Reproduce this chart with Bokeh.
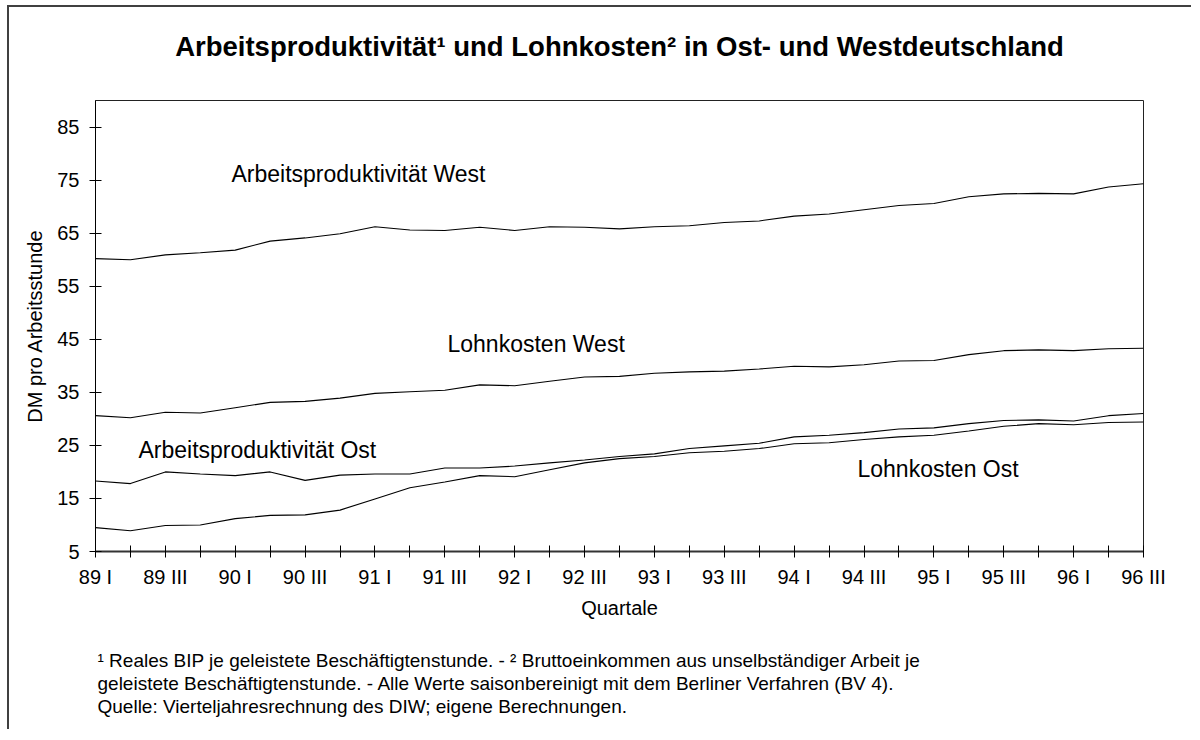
from bokeh.plotting import figure
from bokeh.models import Range1d, FixedTicker, Label, Title
from bokeh.embed import file_html
from bokeh.resources import INLINE

# ---------------- data ----------------
quarters = ["89 I", "89 II", "89 III", "89 IV",
            "90 I", "90 II", "90 III", "90 IV",
            "91 I", "91 II", "91 III", "91 IV",
            "92 I", "92 II", "92 III", "92 IV",
            "93 I", "93 II", "93 III", "93 IV",
            "94 I", "94 II", "94 III", "94 IV",
            "95 I", "95 II", "95 III", "95 IV",
            "96 I", "96 II", "96 III"]

prod_west = [60.2, 60.0, 60.9, 61.3, 61.8, 63.5, 64.1, 64.9, 66.2, 65.6, 65.5,
             66.1, 65.5, 66.2, 66.1, 65.8, 66.2, 66.4, 67.0, 67.3, 68.2, 68.6,
             69.4, 70.2, 70.6, 71.85, 72.4, 72.5, 72.4, 73.7, 74.3]
lohn_west = [30.6, 30.2, 31.25, 31.1, 32.1, 33.1, 33.3, 33.9, 34.8, 35.1, 35.4,
             36.4, 36.25, 37.1, 37.9, 38.0, 38.6, 38.85, 39.0, 39.4, 39.9, 39.8,
             40.2, 40.9, 41.0, 42.1, 42.85, 43.0, 42.85, 43.2, 43.3]
prod_ost = [18.3, 17.8, 20.0, 19.6, 19.3, 20.0, 18.4, 19.4, 19.6, 19.6, 20.75,
            20.75, 21.1, 21.7, 22.25, 22.9, 23.4, 24.4, 24.9, 25.4, 26.6, 26.9,
            27.4, 28.1, 28.3, 29.1, 29.7, 29.8, 29.6, 30.6, 31.0]
lohn_ost = [9.5, 8.9, 9.9, 10.0, 11.2, 11.8, 11.9, 12.8, 14.9, 17.0, 18.1,
            19.3, 19.1, 20.4, 21.7, 22.5, 22.9, 23.6, 23.9, 24.4, 25.3, 25.5,
            26.1, 26.6, 26.9, 27.7, 28.6, 29.1, 28.9, 29.3, 29.4]

y_ticks = [5, 15, 25, 35, 45, 55, 65, 75, 85]

title_text = "Arbeitsproduktivität¹ und Lohnkosten² in Ost- und Westdeutschland"
y_label = "DM pro Arbeitsstunde"
x_label = "Quartale"
footnotes = [
    "¹ Reales BIP je geleistete Beschäftigtenstunde. - ² Bruttoeinkommen aus unselbständiger Arbeit je",
    "geleistete Beschäftigtenstunde. - Alle Werte saisonbereinigt mit dem Berliner Verfahren (BV 4).",
    "Quelle: Vierteljahresrechnung des DIW; eigene Berechnungen.",
]

# ---------------- layout constants ----------------
FONT = "Liberation Sans"
AXIS_FS = "20px"
Y0, Y1 = 5, 90
N = len(quarters)
X = list(range(N))

# page pixel geometry of the plotting frame (for placing the series labels)
FL, FR, FT, FB = 95, 1143, 100, 551


def dx(px):
    return (px - FL) / (FR - FL) * (N - 1)


def dy(py):
    return Y1 - (py - FT) / (FB - FT) * (Y1 - Y0)


p = figure(width=1184, height=724, output_backend="svg", toolbar_location=None,
           x_range=Range1d(0, N - 1), y_range=Range1d(Y0, Y1),
           min_border_left=86, min_border_top=93, min_border_right=50,
           min_border_bottom=180)
p.styles = {"margin-left": "7px", "margin-top": "5px",
            "border-left": "2px solid #404040", "border-top": "2px solid #404040"}

p.xgrid.visible = False
p.ygrid.visible = False
p.outline_line_color = "#222222"
p.outline_line_width = 1
p.background_fill_color = "white"
p.border_fill_color = "white"

for series in (prod_west, lohn_west, prod_ost, lohn_ost):
    p.line(X, series, line_color="black", line_width=1.1)

# x axis
xa = p.xaxis[0]
xa.ticker = FixedTicker(ticks=X)
xa.major_label_overrides = {i: (quarters[i] if i % 2 == 0 else "") for i in X}
xa.major_tick_in = 6
xa.major_tick_out = 6
xa.minor_tick_line_color = None
xa.axis_line_width = 2
xa.axis_line_color = "#333333"
xa.major_tick_line_color = "black"
xa.major_label_text_font = FONT
xa.major_label_text_font_size = AXIS_FS
xa.major_label_text_color = "black"
xa.major_label_standoff = 8
xa.axis_label = x_label
xa.axis_label_text_font = FONT
xa.axis_label_text_font_size = AXIS_FS
xa.axis_label_text_font_style = "normal"
xa.axis_label_text_color = "black"
xa.axis_label_standoff = 6

# y axis
ya = p.yaxis[0]
ya.ticker = FixedTicker(ticks=y_ticks)
ya.major_tick_in = 6
ya.major_tick_out = 6
ya.minor_tick_line_color = None
ya.axis_line_color = "black"
ya.major_tick_line_color = "black"
ya.major_label_text_font = FONT
ya.major_label_text_font_size = AXIS_FS
ya.major_label_text_color = "black"
ya.major_label_standoff = 10
ya.axis_label = y_label
ya.axis_label_text_font = FONT
ya.axis_label_text_font_size = AXIS_FS
ya.axis_label_text_font_style = "normal"
ya.axis_label_text_color = "black"
ya.axis_label_standoff = 8

# title (above the frame): spacer next to the frame, then the title
p.add_layout(Title(text=" ", text_font=FONT, text_font_size="2px",
                   standoff=33), "above")
p.add_layout(Title(text=title_text, text_font=FONT, text_font_size="27.5px",
                   text_font_style="bold", text_color="black", align="center",
                   vertical_align="top", standoff=0), "above")

# footnotes (below the x axis): a spacer, then three lines
p.add_layout(Title(text=" ", text_font=FONT, text_font_size="2px",
                   standoff=24), "below")
for txt in footnotes:
    p.add_layout(Title(text=txt, text_font=FONT, text_font_size="19px",
                       text_font_style="normal", text_color="black",
                       align="left", vertical_align="top", offset=2,
                       standoff=0), "below")

# series labels inside the plot
series_labels = [
    ("Arbeitsproduktivität West", 231, 173),
    ("Lohnkosten West", 447, 343),
    ("Arbeitsproduktivität Ost", 138, 449),
    ("Lohnkosten Ost", 857, 468),
]
for txt, px, py in series_labels:
    p.add_layout(Label(x=dx(px), y=dy(py), text=txt, text_font=FONT,
                       text_font_size="23px", text_align="left",
                       text_baseline="middle", text_color="black"))

open("out.html", "w").write(file_html(p, INLINE))
